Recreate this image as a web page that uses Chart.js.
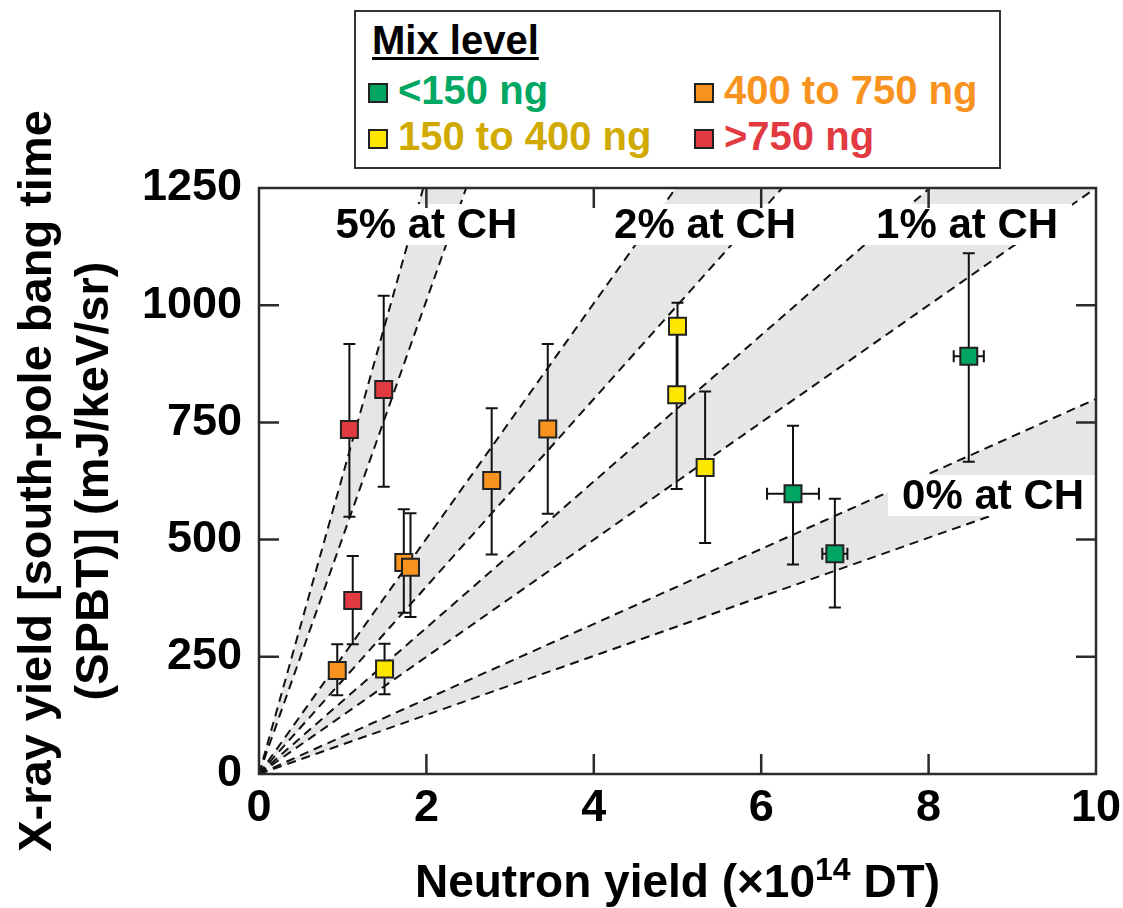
<!DOCTYPE html>
<html>
<head>
<meta charset="utf-8">
<script src="https://cdn.jsdelivr.net/npm/chart.js@4.4.1/dist/chart.umd.min.js"></script>
<style>
  body { margin: 0; background: #fff; }
  #wrap { position: relative; width: 1123px; height: 908px; overflow: hidden; }
  #chart { position: absolute; left: 0; top: 0; }
  .lg { position: absolute; font-family: 'Liberation Sans', Arial, sans-serif; font-weight: bold; white-space: nowrap; }
  #legendBox { position: absolute; left: 354px; top: 10px; width: 647px; height: 159px; box-sizing: border-box; border: 2px solid #333; background: #fff; }
  .sq { position: absolute; width: 20px; height: 20px; box-sizing: border-box; border: 2px solid #222; }
</style>
</head>
<body>
<div id="wrap">
  <canvas id="chart" width="1123" height="908"></canvas>
  <div id="legendBox"></div>
</div>
<script>
// axis ticks
const xTicks = [0, 2, 4, 6, 8, 10];
const yTicks = [0, 250, 500, 750, 1000, 1250];

// mix level groups
const groupNames = ['<150 ng', '150 to 400 ng', '400 to 750 ng', '>750 ng'];
const markerColors = ['#00A463', '#FFE600', '#F7931E', '#E23A41'];
const textColors = ['#00A863', '#D1AA00', '#F7931E', '#E23A41'];

// neutron yield (x1e14 DT), x-ray yield, error bar ends and x half-error
const greenX = [6.38, 6.88, 8.48];
const greenY = [598, 470, 891];
const greenHi = [743, 587, 1111];
const greenLo = [447, 355, 666];
const greenXErr = [0.31, 0.15, 0.18];

const yellowX = [1.50, 5.00, 4.99, 5.33];
const yellowY = [224, 955, 809, 654];
const yellowHi = [278, 1005, 955, 816];
const yellowLo = [170, 809, 608, 493];
const yellowXErr = [0, 0, 0, 0];

const orangeX = [0.935, 1.73, 1.81, 2.78, 3.45];
const orangeY = [221, 451, 441, 626, 736];
const orangeHi = [277, 565, 556, 780, 917];
const orangeLo = [168, 344, 335, 468, 555];
const orangeXErr = [0, 0, 0, 0, 0];

const redX = [1.08, 1.49, 1.12];
const redY = [735, 820, 370];
const redHi = [917, 1020, 465];
const redLo = [549, 613, 277];
const redXErr = [0, 0, 0];

// mix bands: x-ray yield per unit neutron yield (lines through origin)
const bandNames = ['0% at CH', '1% at CH', '2% at CH', '5% at CH'];
const bandLowSlope = [63, 125, 200, 505];
const bandHighSlope = [80, 156, 251, 637];
const bandLabelX = [8.77, 8.46, 5.33, 2.0];
const bandLabelY = [594, 1172, 1172, 1172];

const FONT = "'Liberation Sans', Arial, sans-serif";

const groups = [
  { x: greenX, y: greenY, hi: greenHi, lo: greenLo, xe: greenXErr },
  { x: yellowX, y: yellowY, hi: yellowHi, lo: yellowLo, xe: yellowXErr },
  { x: orangeX, y: orangeY, hi: orangeHi, lo: orangeLo, xe: orangeXErr },
  { x: redX, y: redY, hi: redHi, lo: redLo, xe: redXErr }
];

// legend (html)
const wrap = document.getElementById('wrap');
function addDiv(cls, css, text) {
  const d = document.createElement('div');
  d.className = cls;
  Object.assign(d.style, css);
  if (text) d.textContent = text;
  wrap.appendChild(d);
  return d;
}
addDiv('lg', { left: '372px', top: '20px', fontSize: '40px', lineHeight: '40px', color: '#000',
  textDecoration: 'underline', textDecorationThickness: '2.5px', textUnderlineOffset: '3px' }, 'Mix level');
const legendPos = [[368, 83], [368, 129], [694, 83], [694, 129]];
groupNames.forEach((name, i) => {
  const [lx, ly] = legendPos[i];
  addDiv('sq', { left: lx + 'px', top: ly + 'px', background: markerColors[i] });
  addDiv('lg', { left: (lx + 30) + 'px', top: (ly - 13) + 'px', fontSize: '40px', lineHeight: '40px', color: textColors[i] }, name);
});

// datasets
const pointSets = groups.map((g, i) => ({
  label: groupNames[i],
  data: g.x.map((v, k) => ({ x: v, y: g.y[k] })),
  pointStyle: 'rect',
  pointRadius: 12,
  backgroundColor: markerColors[i],
  borderColor: '#222',
  borderWidth: 2,
  showLine: false
}));

const lineStyle = { showLine: true, pointRadius: 0, borderColor: '#111', borderWidth: 2, borderDash: [9, 6], tension: 0 };
const bandSets = [];
bandNames.forEach((name, i) => {
  bandSets.push(Object.assign({ label: name + ' low', data: [{ x: 0, y: 0 }, { x: 10, y: bandLowSlope[i] * 10 }],
    fill: '+1', backgroundColor: '#e6e6e6' }, lineStyle));
  bandSets.push(Object.assign({ label: name + ' high', data: [{ x: 0, y: 0 }, { x: 10, y: bandHighSlope[i] * 10 }],
    fill: false }, lineStyle));
});

const decor = {
  id: 'decor',
  beforeDraw(chart) {
    const ctx = chart.ctx;
    ctx.save();
    ctx.fillStyle = '#fff';
    ctx.fillRect(0, 0, chart.width, chart.height);
    ctx.restore();
  },
  beforeDatasetDraw(chart, args) {
    if (args.index !== groups.length - 1) return;
    const ctx = chart.ctx;
    const xs = chart.scales.x, ys = chart.scales.y;
    ctx.save();
    // band labels on white boxes
    ctx.font = 'bold 42px ' + FONT;
    ctx.textAlign = 'center';
    ctx.textBaseline = 'middle';
    bandNames.forEach((name, i) => {
      const px = xs.getPixelForValue(bandLabelX[i]);
      const py = ys.getPixelForValue(bandLabelY[i]);
      const w = ctx.measureText(name).width + 28;
      ctx.fillStyle = '#fff';
      ctx.fillRect(px - w / 2, py - 20.5, w, 41);
      ctx.fillStyle = '#000';
      ctx.fillText(name, px, py + 2);
    });
    // error bars
    ctx.strokeStyle = '#111';
    ctx.lineWidth = 2;
    const cap = 6;
    groups.forEach(g => {
      g.x.forEach((xv, k) => {
        const px = xs.getPixelForValue(xv);
        const py = ys.getPixelForValue(g.y[k]);
        const ph = ys.getPixelForValue(g.hi[k]);
        const pl = ys.getPixelForValue(g.lo[k]);
        ctx.beginPath();
        ctx.moveTo(px, ph); ctx.lineTo(px, pl);
        ctx.moveTo(px - cap, ph); ctx.lineTo(px + cap, ph);
        ctx.moveTo(px - cap, pl); ctx.lineTo(px + cap, pl);
        if (g.xe[k] > 0) {
          const x1 = xs.getPixelForValue(xv - g.xe[k]);
          const x2 = xs.getPixelForValue(xv + g.xe[k]);
          ctx.moveTo(x1, py); ctx.lineTo(x2, py);
          ctx.moveTo(x1, py - cap); ctx.lineTo(x1, py + cap);
          ctx.moveTo(x2, py - cap); ctx.lineTo(x2, py + cap);
        }
        ctx.stroke();
      });
    });
    ctx.restore();
  },
  afterDraw(chart) {
    const ctx = chart.ctx;
    const a = chart.chartArea;
    const xs = chart.scales.x, ys = chart.scales.y;
    ctx.save();
    ctx.strokeStyle = '#2b2b2b';
    ctx.lineWidth = 2.5;
    ctx.strokeRect(a.left, a.top, a.right - a.left, a.bottom - a.top);
    const tl = 20;
    ctx.beginPath();
    xTicks.slice(1, -1).forEach(v => {
      const px = xs.getPixelForValue(v);
      ctx.moveTo(px, a.bottom); ctx.lineTo(px, a.bottom - tl);
      ctx.moveTo(px, a.top); ctx.lineTo(px, a.top + tl);
    });
    yTicks.slice(1, -1).forEach(v => {
      const py = ys.getPixelForValue(v);
      ctx.moveTo(a.left, py); ctx.lineTo(a.left + tl, py);
      ctx.moveTo(a.right, py); ctx.lineTo(a.right - tl, py);
    });
    ctx.stroke();

    // x axis title with a real superscript
    const parts = [['Neutron yield (×10', 46, 0], ['14', 32, -17], [' DT)', 46, 0]];
    let total = 0;
    parts.forEach(p => { ctx.font = 'bold ' + p[1] + 'px ' + FONT; total += ctx.measureText(p[0]).width; });
    let tx = (a.left + a.right) / 2 - total / 2;
    ctx.fillStyle = '#000';
    ctx.textAlign = 'left';
    ctx.textBaseline = 'alphabetic';
    parts.forEach(p => {
      ctx.font = 'bold ' + p[1] + 'px ' + FONT;
      ctx.fillText(p[0], tx, 897 + p[2]);
      tx += ctx.measureText(p[0]).width;
    });
    ctx.restore();
  }
};

const tickFont = { family: FONT, size: 45, weight: 'bold' };

new Chart(document.getElementById('chart'), {
  type: 'scatter',
  data: { datasets: pointSets.concat(bandSets) },
  options: {
    responsive: false,
    devicePixelRatio: 1,
    animation: false,
    events: [],
    layout: { padding: { top: 188, right: 27, left: 0, bottom: 0 } },
    plugins: { legend: { display: false }, tooltip: { enabled: false }, filler: { drawTime: 'beforeDatasetsDraw' } },
    scales: {
      x: {
        type: 'linear', min: 0, max: 10,
        afterBuildTicks: s => { s.ticks = xTicks.map(v => ({ value: v })); },
        afterFit: s => { s.height = 134; s.paddingLeft = 0; s.paddingRight = 0; },
        grid: { display: false, drawTicks: false },
        border: { display: false },
        ticks: { font: tickFont, color: '#000', padding: 8, maxRotation: 0, autoSkip: false, callback: v => String(v) }
      },
      y: {
        type: 'linear', min: 0, max: 1250,
        afterBuildTicks: s => { s.ticks = yTicks.map(v => ({ value: v })); },
        afterFit: s => { s.width = 259; s.paddingTop = 0; s.paddingBottom = 0; },
        grid: { display: false, drawTicks: false },
        border: { display: false },
        ticks: { font: tickFont, color: '#000', padding: 17, autoSkip: false, callback: v => String(v) },
        title: { display: true, text: ['X-ray yield [south-pole bang time', '(SPBT)] (mJ/keV/sr)'], color: '#000',
          font: { family: FONT, size: 47, weight: 'bold', lineHeight: 1.2 }, padding: { top: 10, bottom: 0 } }
      }
    }
  },
  plugins: [decor]
});
</script>
</body>
</html>
